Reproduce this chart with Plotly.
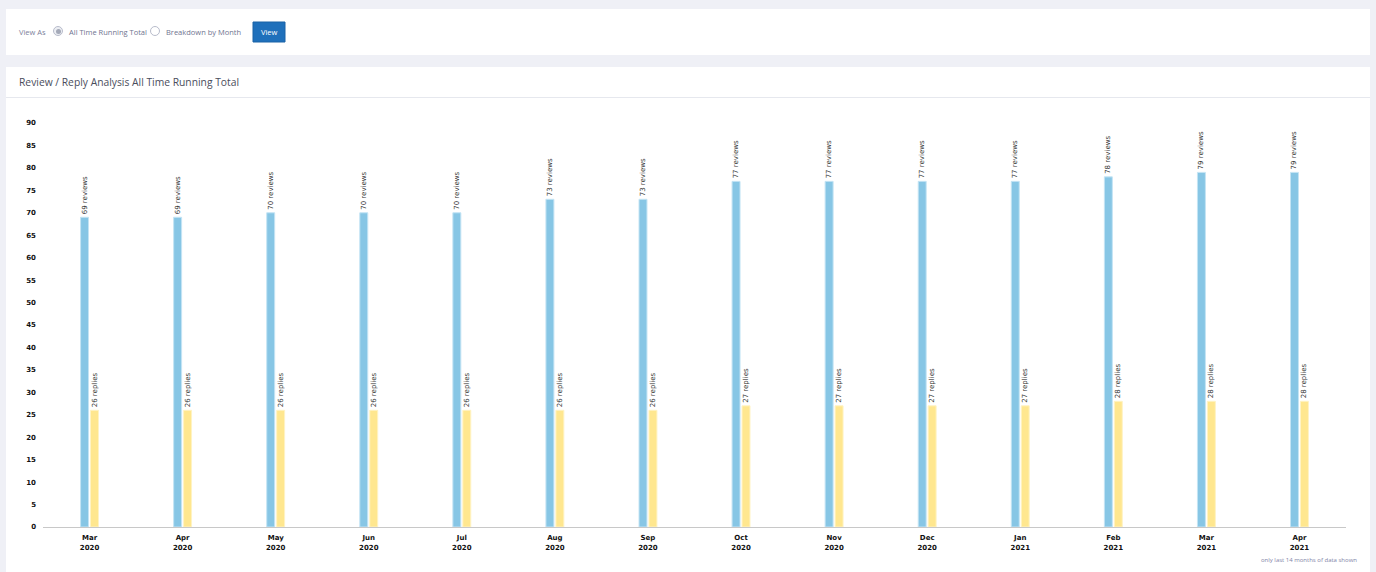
import plotly.graph_objects as go

W, H = 1376, 572

months = ["Mar<br>2020", "Apr<br>2020", "May<br>2020", "Jun<br>2020", "Jul<br>2020",
          "Aug<br>2020", "Sep<br>2020", "Oct<br>2020", "Nov<br>2020", "Dec<br>2020",
          "Jan<br>2021", "Feb<br>2021", "Mar<br>2021", "Apr<br>2021"]
reviews = [69, 69, 70, 70, 70, 73, 73, 77, 77, 77, 77, 78, 79, 79]
replies = [26, 26, 26, 26, 26, 26, 26, 27, 27, 27, 27, 28, 28, 28]
y_ticks = list(range(0, 95, 5))

BLUE = "#87c6e5"
YELLOW = "#ffe78f"

def px(x):
    return x / W

def py(y):
    return 1 - y / H

fig = go.Figure()
fig.add_trace(go.Bar(
    x=months, y=reviews, name="reviews",
    marker=dict(color=BLUE, line=dict(color="#c4e4f4", width=1)),
    text=[f"{v} reviews" for v in reviews], textposition="outside",
    textangle=-90, constraintext="none",
    textfont=dict(size=7, color="#333", family="DejaVu Sans"),
    cliponaxis=False, hoverinfo="skip"))
fig.add_trace(go.Bar(
    x=months, y=replies, name="replies",
    marker=dict(color=YELLOW, line=dict(color="#fff3c4", width=1)),
    text=[f"{v} replies" for v in replies], textposition="outside",
    textangle=-90, constraintext="none",
    textfont=dict(size=7, color="#333", family="DejaVu Sans"),
    cliponaxis=False, hoverinfo="skip"))

shapes = [
    # top card
    dict(type="rect", xref="paper", yref="paper", x0=px(6), x1=px(1370), y0=py(55), y1=py(9),
         fillcolor="white", line=dict(width=0), layer="below"),
    # chart card
    dict(type="rect", xref="paper", yref="paper", x0=px(6), x1=px(1370), y0=0, y1=py(67),
         fillcolor="white", line=dict(width=0), layer="below"),
    # divider
    dict(type="line", xref="paper", yref="paper", x0=px(6), x1=px(1370), y0=py(97.5), y1=py(97.5),
         line=dict(color="#e6e8ee", width=1)),
    # radio 1 (selected)
    dict(type="circle", xref="paper", yref="paper", x0=px(53.5), x1=px(62.5), y0=py(35.5), y1=py(26.5),
         fillcolor="#eceef3", line=dict(color="#b8bccb", width=1)),
    dict(type="circle", xref="paper", yref="paper", x0=px(56), x1=px(61), y0=py(34), y1=py(29),
         fillcolor="#a4a9b8", line=dict(width=0)),
    # radio 2
    dict(type="circle", xref="paper", yref="paper", x0=px(150.5), x1=px(159.5), y0=py(35.5), y1=py(26.5),
         fillcolor="white", line=dict(color="#b8bccb", width=1)),
    # button
    dict(type="rect", xref="paper", yref="paper", x0=px(253), x1=px(285), y0=py(42), y1=py(22),
         fillcolor="#1f70bb", line=dict(color="#1a62a6", width=1)),
]

UI = "Open Sans"
annotations = [
    dict(text="View As", x=px(17), y=py(31.5), xanchor="left", yanchor="middle",
         font=dict(family=UI, size=7.5, color="#7c819b")),
    dict(text="All Time Running Total", x=px(67), y=py(31.5), xanchor="left", yanchor="middle",
         font=dict(family=UI, size=7.5, color="#6f7490")),
    dict(text="Breakdown by Month", x=px(164), y=py(31.5), xanchor="left", yanchor="middle",
         font=dict(family=UI, size=7.5, color="#6f7490")),
    dict(text="View", x=px(269), y=py(32), xanchor="center", yanchor="middle",
         font=dict(family=UI, size=7.5, color="white")),
    dict(text="Review / Reply Analysis All Time Running Total", x=px(17), y=py(81.5),
         xanchor="left", yanchor="middle", font=dict(family=UI, size=10.3, color="#4a4d5c")),
    dict(text="only last 14 months of data shown", x=px(1359), y=py(559.5),
         xanchor="right", yanchor="middle", font=dict(family=UI, size=6, color="#7f84a8")),
]
for a in annotations:
    a.update(xref="paper", yref="paper", showarrow=False)

fig.update_layout(
    width=W, height=H,
    margin=dict(l=0, r=0, t=0, b=0, pad=0, autoexpand=False),
    paper_bgcolor="#eff0f6",
    plot_bgcolor="rgba(0,0,0,0)",
    showlegend=False,
    barmode="group",
    bargap=0.786,
    bargroupgap=0.2,
    shapes=shapes,
    annotations=annotations,
    font=dict(family="DejaVu Sans"),
    xaxis=dict(domain=[px(43), px(1346)], showgrid=False, zeroline=False,
               showline=True, linecolor="#c8c8c8", linewidth=1, ticks="",
               tickfont=dict(size=7, color="#111", family="DejaVu Sans", weight="bold"),
               ticklabelstandoff=4, automargin=False, fixedrange=True),
    yaxis=dict(domain=[py(527), py(123)], range=[0, 90], tickvals=y_ticks,
               showgrid=False, zeroline=False, showline=False, ticks="",
               tickfont=dict(size=7, color="#111", family="DejaVu Sans", weight="bold"),
               ticklabelstandoff=6, automargin=False, fixedrange=True),
)

fig.write_html("out.html")
